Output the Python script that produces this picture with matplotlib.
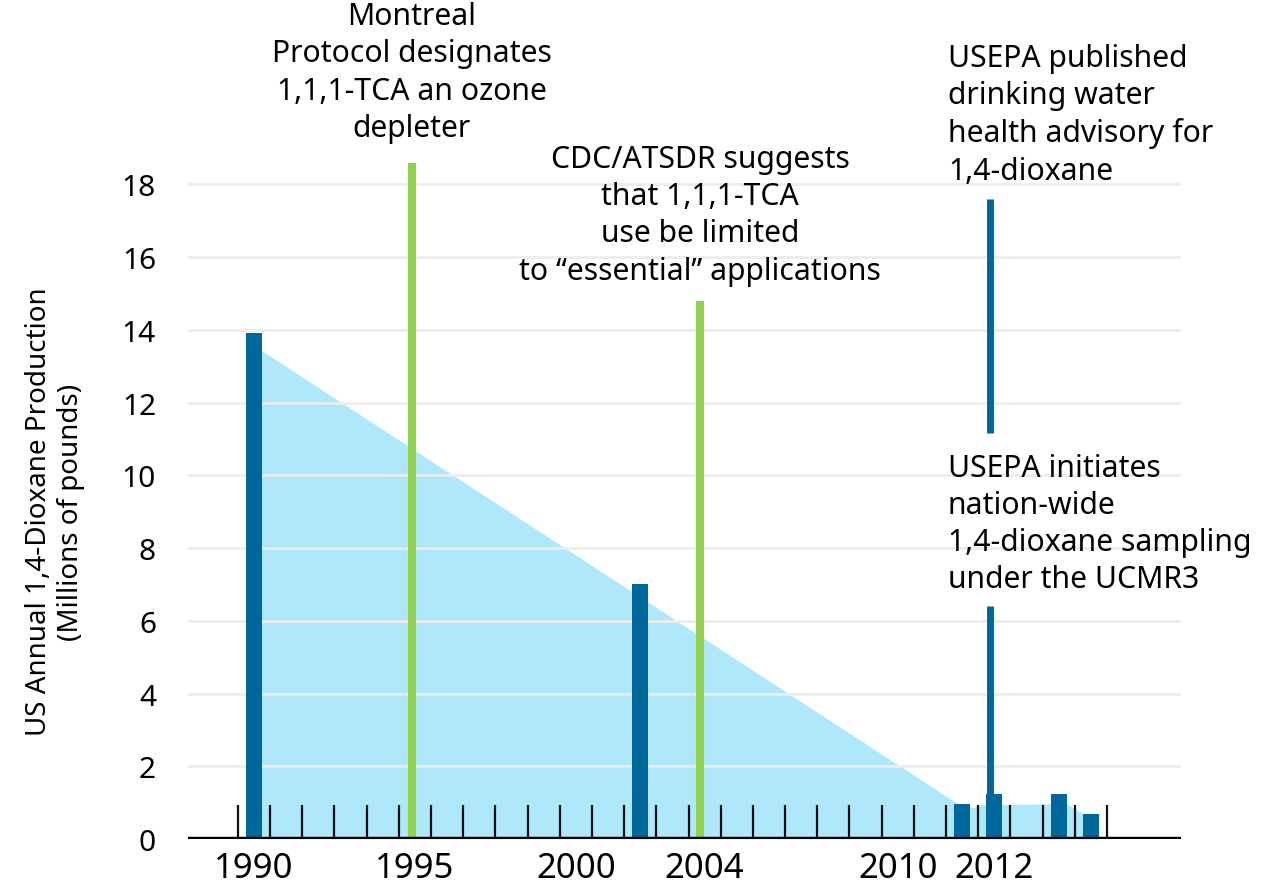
import numpy as np
import matplotlib
matplotlib.use("Agg")
import matplotlib.pyplot as plt

plt.rcParams['font.family'] = ['Noto Sans', 'DejaVu Sans']

# production bars (x = year slot)
bar_years = [1990, 2002, 2012, 2013, 2015, 2016]
bar_values = [13.9, 7.0, 0.95, 1.25, 1.25, 0.7]

# light blue trend area
trend_x = [1990.2, 2011.85, 2012.3, 2012.65, 2015.25, 2015.75, 2016.25]
trend_y = [13.45, 0.98, 0.85, 0.95, 0.97, 0.7, 0.7]

# event markers
green_x = [1994.9, 2003.85]
green_top = [18.6, 14.8]
epa_x = 2012.88
epa_segments = [(0, 6.4), (11.15, 17.6)]

label_pos = [1990, 1995, 2000, 2004, 2010, 2013]
label_text = ['1990', '1995', '2000', '2004', '2010', '2012']
yticks = list(range(0, 19, 2))

# (x, baseline of last line, text, align)
notes = [
    (1994.9, 19.34, "Montreal\nProtocol designates\n1,1,1-TCA an ozone\ndepleter", 'center'),
    (2003.86, 15.41, "CDC/ATSDR suggests\nthat 1,1,1-TCA\nuse be limited\nto \u201cessential\u201d applications", 'center'),
    (2011.56, 18.16, "USEPA published\ndrinking water\nhealth advisory for\n1,4-dioxane", 'left'),
    (2011.56, 6.93, "USEPA initiates\nnation-wide\n1,4-dioxane sampling\nunder the UCMR3", 'left'),
]

dark_blue = '#00679B'
light_blue = '#B0E8FB'
green = '#92D050'

fig = plt.figure(figsize=(12.76, 8.87), dpi=100)
ax = fig.add_axes([188/1276, 47/887, 993/1276, 691/887])

ax.fill_between(trend_x, trend_y, 0, color=light_blue, lw=0, zorder=1)
for y in yticks[1:]:
    ax.axhline(y, color='#ededed', lw=2, zorder=2)
ax.bar(bar_years, bar_values, width=0.5, color=dark_blue, zorder=3)
ax.vlines(green_x, 0, green_top, color=green, lw=5.8, zorder=3)
for lo, hi in epa_segments:
    ax.vlines(epa_x, lo, hi, color=dark_blue, lw=5, zorder=3)
ax.vlines(np.arange(1989.5, 2017, 1), 0, 0.93, color='#111111', lw=1.6, zorder=4)
ax.axhline(0, color='black', lw=3.9, zorder=5)

for x, y, txt, ha in notes:
    ax.text(x, y, txt, ha=ha, va='baseline', multialignment=ha, fontsize=21.7,
            linespacing=1.31, clip_on=False)

ax.set_xlim(1987.95, 2018.8)
ax.set_ylim(0, 19)
ax.set_xticks(label_pos)
ax.set_xticklabels(label_text, fontsize=25)
ax.set_yticks(yticks)
ax.tick_params(axis='y', length=0, pad=23, labelsize=21.5)
ax.tick_params(axis='x', length=0, pad=9)
for s in ax.spines.values():
    s.set_visible(False)

fig.text(55/1276, 1 - 512/887, "US Annual 1,4-Dioxane Production\n(Millions of pounds)",
         rotation=90, ha='center', va='center', multialignment='center', fontsize=20)

fig.savefig('out.png', dpi=100)
